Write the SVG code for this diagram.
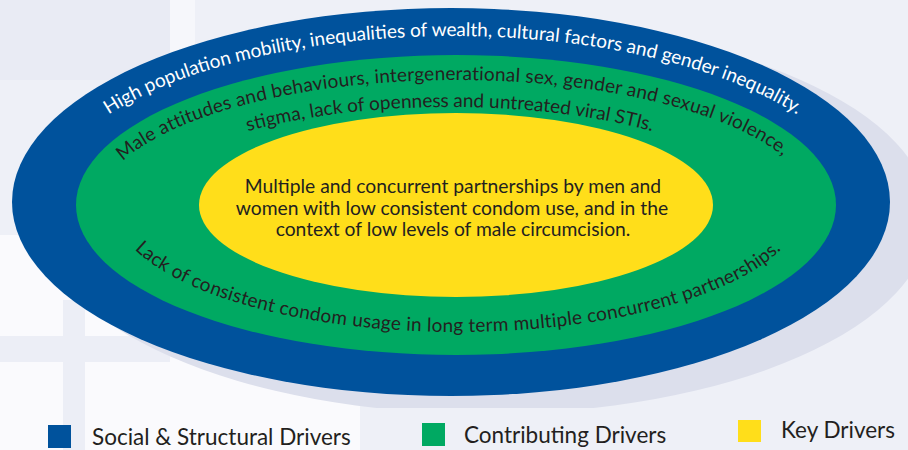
<svg xmlns="http://www.w3.org/2000/svg" width="908" height="450" viewBox="0 0 908 450">
<style>
.t{font-family:Lato,"Open Sans","Liberation Sans",sans-serif;fill:#231f20}
.w{fill:#ffffff}
.c{font-size:19.3px;text-anchor:middle}
.arc{font-size:19px}
.leg{font-size:22.5px}
</style>
<defs>
<path id="pBlue" d="M 43,208 A 410 172 0 0 1 863,208"/>
<path id="pG1" d="M 98,208 A 358 128 0 0 1 814,208"/>
<path id="pG2" d="M 140,207 A 310 100 0 0 1 760,207"/>
<path id="pG3" d="M 113,205 A 345 127 0 0 0 803,205"/>
</defs>
<g id="background">
<rect x="0" y="0" width="908" height="450" fill="#eef0f7"/>
<rect x="0" y="0" width="170" height="80" fill="#e9ebf4"/>
<rect x="170" y="0" width="25" height="120" fill="#f6f7fb"/>
<rect x="0" y="235" width="360" height="215" fill="#fafafd"/>
<rect x="63" y="300" width="22" height="150" fill="#eceef6"/>
<rect x="0" y="336" width="170" height="26" fill="#eceef6"/>
<ellipse cx="485" cy="218" rx="445" ry="196" fill="#dcdfec"/>
<rect x="360" y="408" width="548" height="42" fill="#eef0f7"/>
</g>
<g id="social-structural">
<ellipse cx="451" cy="202" rx="439" ry="194" fill="#00529c"/>
<text class="t w arc"><textPath href="#pBlue" startOffset="50%" text-anchor="middle">High population mobility, inequalities of wealth, cultural factors and gender inequality.</textPath></text>
</g>
<g id="contributing">
<ellipse cx="456" cy="205" rx="380" ry="150" fill="#00a962"/>
<text class="t arc" letter-spacing="0.2"><textPath href="#pG1" startOffset="49.5%" text-anchor="middle">Male attitudes and behaviours, intergenerational sex, gender and sexual violence,</textPath></text>
<text class="t arc"><textPath href="#pG2" startOffset="50%" text-anchor="middle">stigma, lack of openness and untreated viral STIs.</textPath></text>
<text class="t arc" letter-spacing="0.25"><textPath href="#pG3" startOffset="50%" text-anchor="middle">Lack of consistent condom usage in long term multiple concurrent partnerships.</textPath></text>
</g>
<g id="key">
<ellipse cx="456" cy="205" rx="257" ry="92" fill="#ffde1a"/>
<text class="t c" x="453" y="193">Multiple and concurrent partnerships by men and</text>
<text class="t c" x="452" y="215">women with low consistent condom use, and in the</text>
<text class="t c" x="453" y="236">context of low levels of male circumcision.</text>
</g>
<g id="legend">
<rect x="48" y="425" width="23" height="23" fill="#00529c"/>
<text class="t leg" x="92" y="445">Social &amp; Structural Drivers</text>
<rect x="422" y="423" width="23" height="23" fill="#00a962"/>
<text class="t leg" x="464" y="443">Contributing Drivers</text>
<rect x="738" y="420" width="23" height="22" fill="#ffde1a"/>
<text class="t leg" x="781" y="438">Key Drivers</text>
</g>
</svg>
